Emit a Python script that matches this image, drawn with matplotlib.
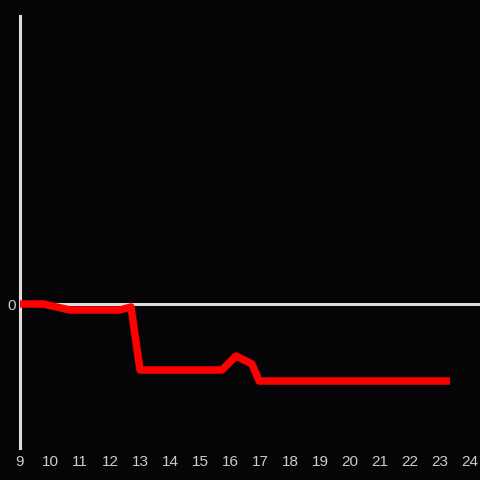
import matplotlib
matplotlib.use("Agg")
import matplotlib.pyplot as plt

# data
hours = [9.0, 9.77, 10.67, 12.33, 12.7, 13.0, 15.73, 16.2, 16.73, 16.97, 23.33]
values = [0.0, 0.0, -0.06, -0.06, -0.03, -0.66, -0.66, -0.52, -0.60, -0.77, -0.77]
xticks = list(range(9, 25))
yticks = [0]

bg = '#050507'
fg = '#dddddd'

fig = plt.figure(figsize=(4.8, 4.8), dpi=100, facecolor=bg)
ax = fig.add_axes([20/480, 32/480, 460/480, 432/480], facecolor=bg)

ax.axhline(0, color=fg, lw=2.2, zorder=1)
ax.plot(hours, values, color='#ff0000', lw=5.4, solid_capstyle='butt', solid_joinstyle='round', zorder=3)

ax.set_xlim(9, 9 + 460/30)
ax.set_ylim(-1.44, 2.88)
ax.set_xticks(xticks)
ax.set_xticklabels([str(t) for t in xticks])
ax.set_yticks(yticks)
ax.set_yticklabels(['0'])

for s in ['top', 'right', 'bottom']:
    ax.spines[s].set_visible(False)
ax.spines['left'].set_color(fg)
ax.spines['left'].set_linewidth(2.2)

ax.tick_params(axis='both', length=0, colors='#cccccc', labelsize=11)
ax.tick_params(axis='x', pad=5)
ax.tick_params(axis='y', pad=3)
for lab in ax.get_xticklabels() + ax.get_yticklabels():
    lab.set_family('Liberation Sans')

fig.savefig('out.png', dpi=100, facecolor=bg)
